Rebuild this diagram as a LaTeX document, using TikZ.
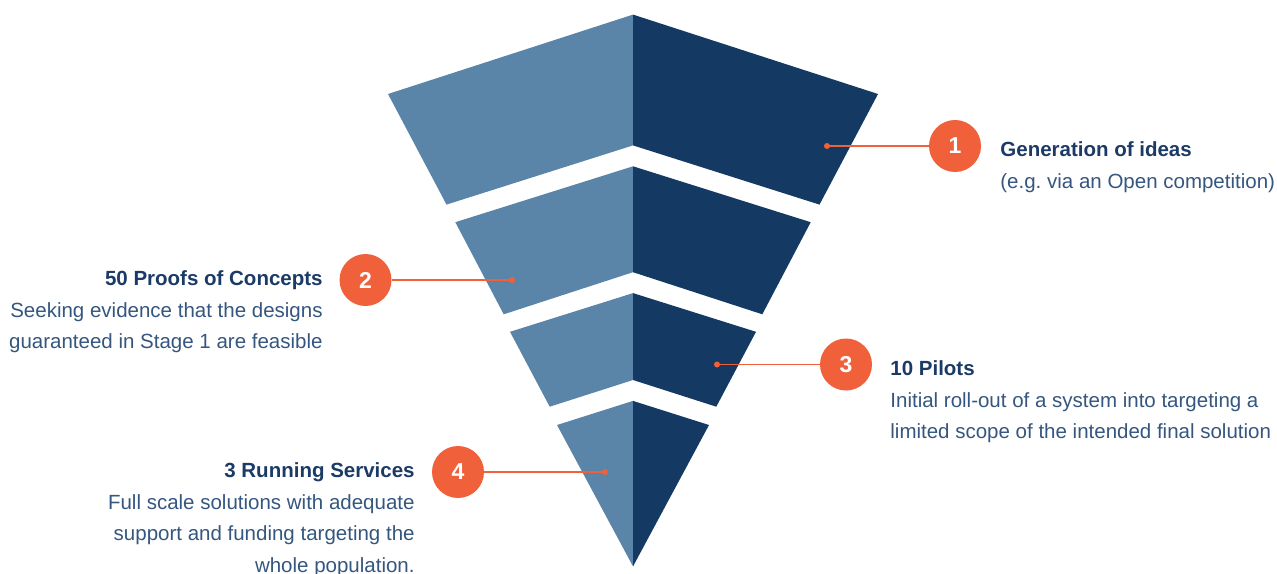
\documentclass[tikz,border=0pt]{standalone}
\usepackage{fontspec}
\setmainfont{Liberation Sans}

\definecolor{lightblue}{HTML}{5B85A8}
\definecolor{darkblue}{HTML}{143A63}
\definecolor{accent}{HTML}{F0603A}
\definecolor{titleblue}{HTML}{1B3B66}
\definecolor{bodyblue}{HTML}{34567F}

\newcommand{\stagetitle}[1]{{\bfseries\color{titleblue}#1}}

\tikzset{
  badge/.style={circle,fill=accent,minimum size=26pt,inner sep=0pt,text=white,
    font=\fontsize{11.5}{14}\selectfont\bfseries},
  link/.style={accent,line width=0.6pt},
  descr/.style={inner sep=0pt,text=bodyblue,font=\fontsize{10.25}{15.8}\selectfont}
}

\begin{document}
\begin{tikzpicture}[x=0.5pt,y=-0.5pt]
            \clip (0,0) rectangle (1277,573);
            % funnel tiers: top, corner y, corner dx, bottom y, bottom dx, notch
            \foreach \top/\cy/\cx/\by/\bx/\bc in {14.6/94/245/204.6/186.5/145.4,
                166.3/222.2/177.7/314.3/129.3/272.2,
                293.1/331.8/123/406.7/83.3/380,
                400.9/425/76/566.4/0/566.4}{
                \fill[lightblue] (633,\top) -- (633-\cx,\cy) -- (633-\bx,\by) -- (633,\bc) -- cycle;
                \fill[darkblue] (633,\top) -- (633+\cx,\cy) -- (633+\bx,\by) -- (633,\bc) -- cycle;
            }
            \coordinate (d1) at (827,146);
            \coordinate (d2) at (512,280);
            \coordinate (d3) at (717,364.5);
            \coordinate (d4) at (605,472);
            \node[badge] (n1) at (955,146) {1};
            \node[badge] (n2) at (365.5,280) {2};
            \node[badge] (n3) at (846,364.5) {3};
            \node[badge] (n4) at (458,472) {4};
            \foreach \i in {1,...,4}{
                \draw[link] (d\i) -- (n\i);
                \fill[accent] (d\i) circle (3);
            }
            \node[descr,anchor=north west,align=left] (t1) at (1000,141.5)
                {\stagetitle{Generation of ideas}\\(e.g.\ via an Open competition)};
            \node[descr,anchor=north east,align=right] (t2) at (323,270.5)
                {\stagetitle{50 Proofs of Concepts}\\Seeking evidence that the designs\\guaranteed in Stage 1 are feasible};
            \node[descr,anchor=north west,align=left] (t3) at (890,360.5)
                {\stagetitle{10 Pilots}\\Initial roll-out of a system into targeting a\\limited scope of the intended final solution};
            \node[descr,anchor=north east,align=right] (t4) at (415,462.5)
                {\stagetitle{3 Running Services}\\Full scale solutions with adequate\\support and funding targeting the\\whole population.};
        \end{tikzpicture}
\end{document}
